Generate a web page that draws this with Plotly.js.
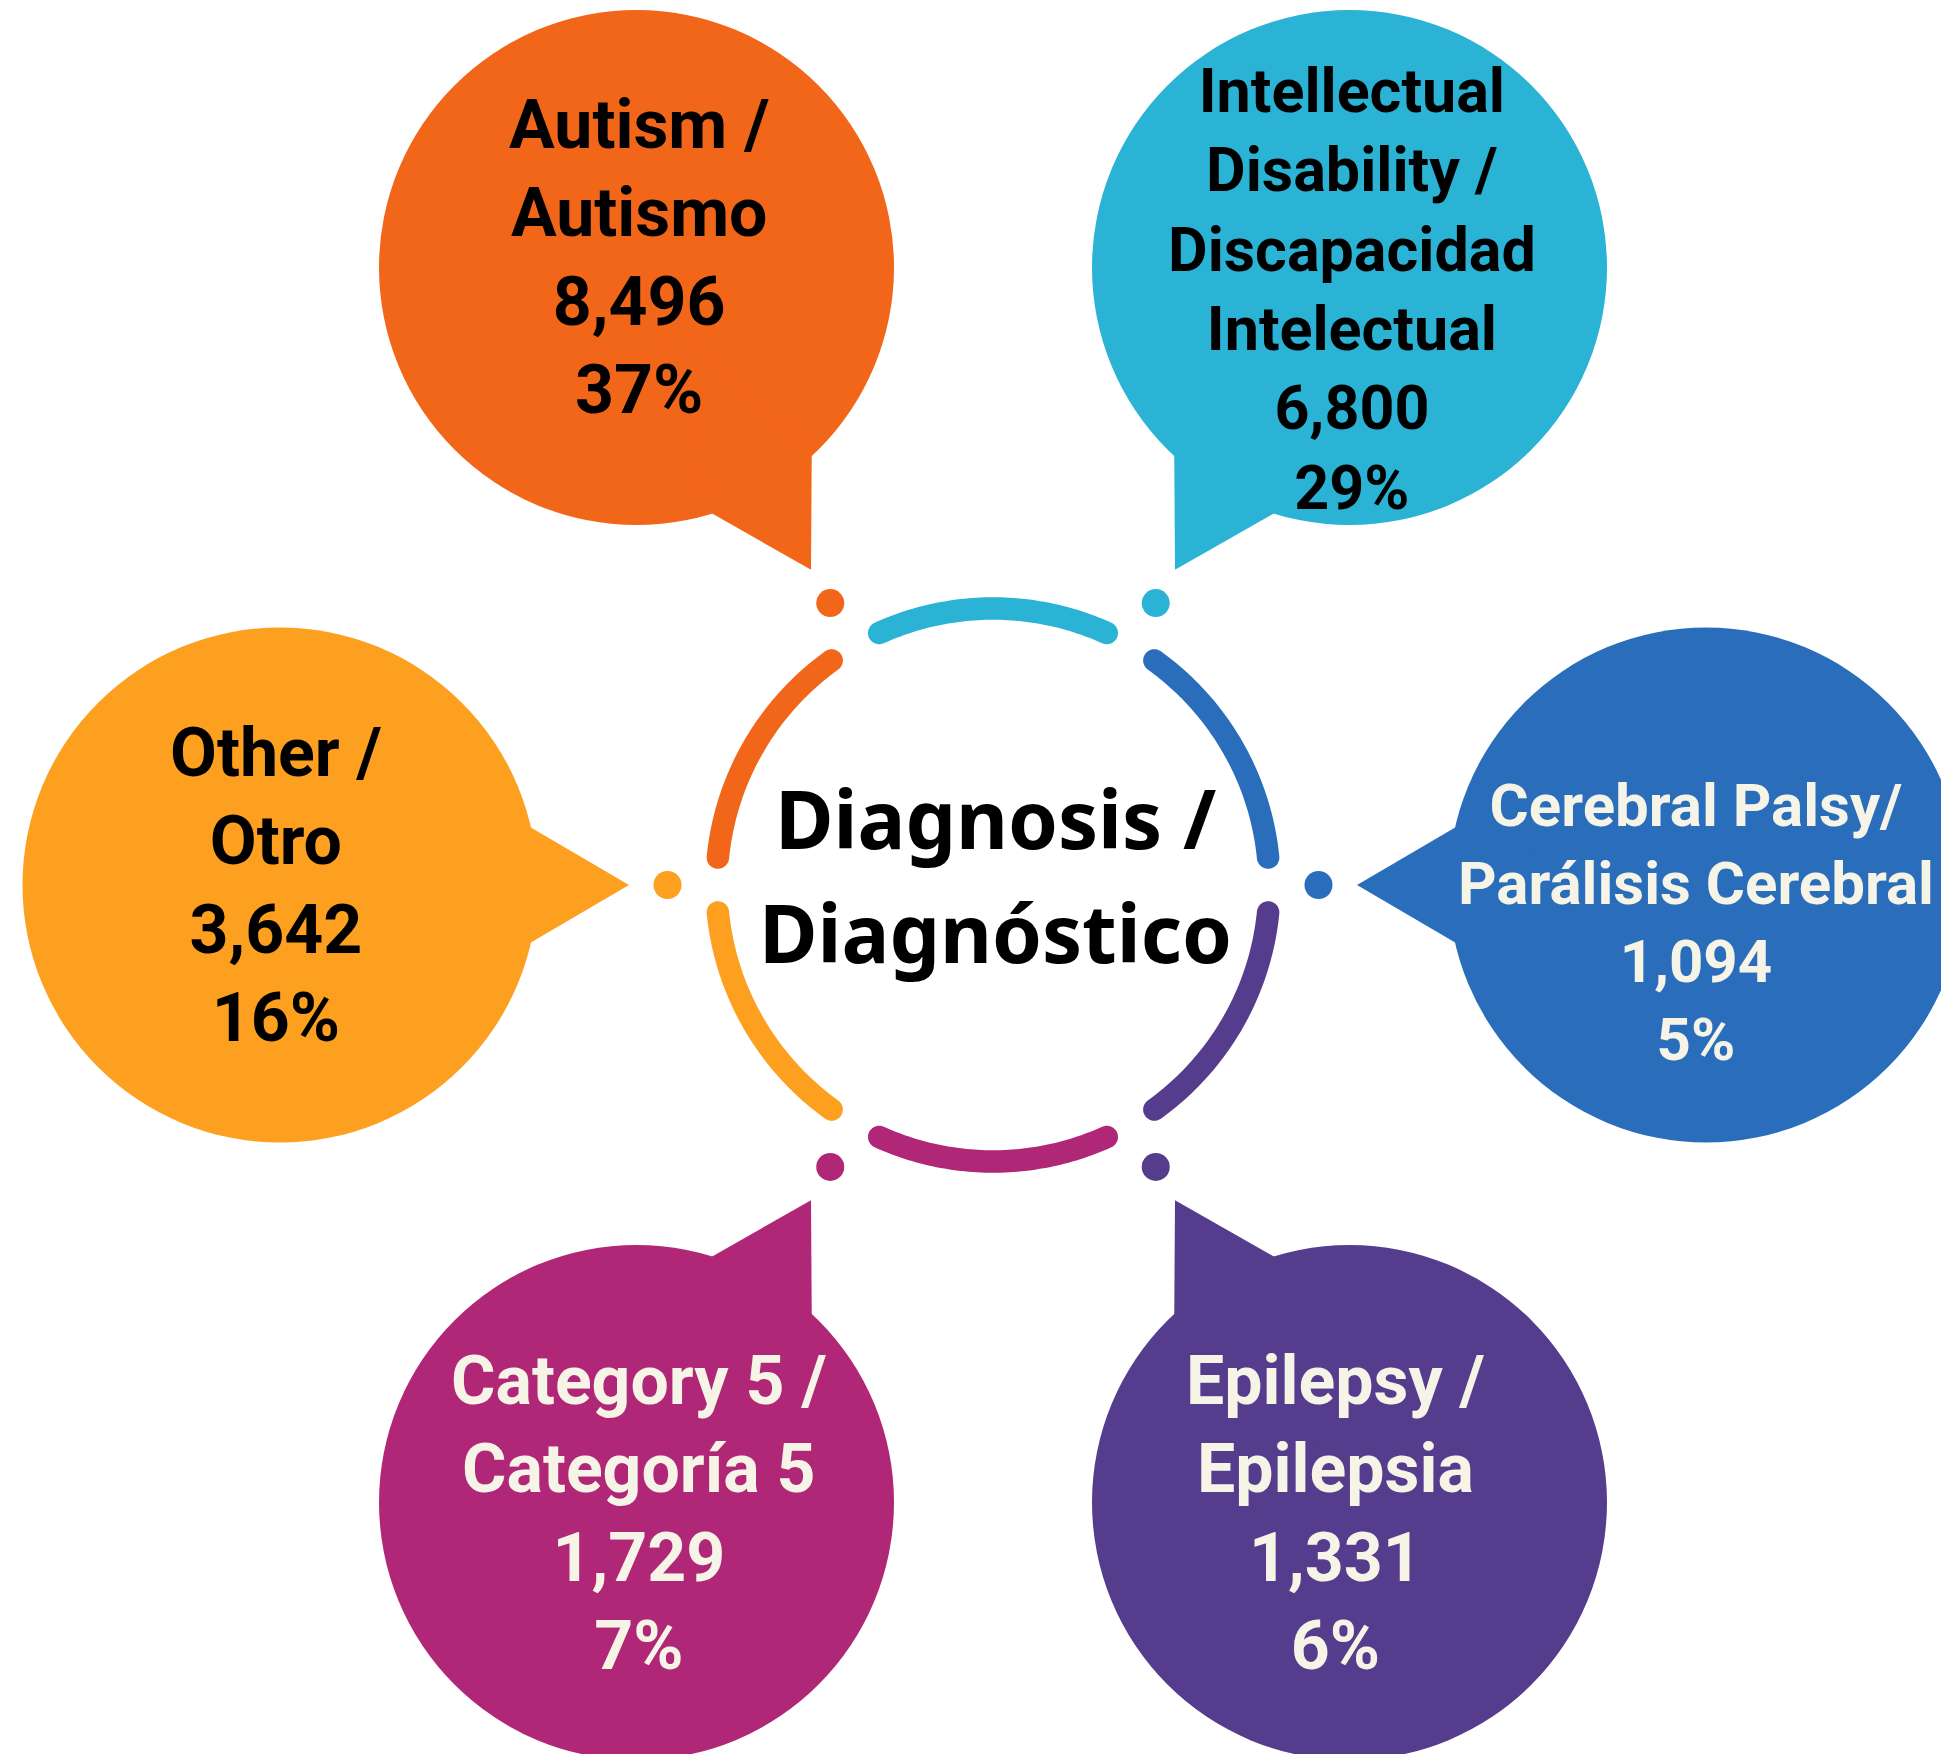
<!DOCTYPE html>
<html>
<head>
<meta charset="utf-8">
<script src="https://cdn.plot.ly/plotly-3.0.1.min.js"></script>
<style>
  html, body { margin: 0; padding: 0; background: #ffffff; }
  #chart { width: 1941px; height: 1754px; }
</style>
</head>
<body>
<div id="chart"></div>
<script>
// ---------- data ----------
const labelsEn = ["Autism /", "Intellectual<br>Disability /", "Cerebral Palsy/", "Epilepsy /", "Category 5 /", "Other /"];
const labelsEs = ["Autismo", "Discapacidad<br>Intelectual", "Parálisis Cerebral", "Epilepsia", "Categoría 5", "Otro"];
const counts   = [8496, 6800, 1094, 1331, 1729, 3642];
const percents = [37, 29, 5, 6, 7, 16];
const centerTitle = ["Diagnosis /", "Diagnóstico"];

// ---------- styling / layout ----------
const colors     = ["#F2661A", "#2BB3D5", "#2A6EBB", "#563C8C", "#B02777", "#FD9F1F"];
const textColors = ["#000000", "#000000", "#F5F4E7", "#F5F4E7", "#F5F4E7", "#000000"];
const angles     = [120, 60, 0, -60, -120, 180];       // position of each bubble around the ring
const fontSizes  = [68, 61, 60, 68, 68, 68];
const textDx     = [2, 2, -10, -14, 2, -4];
const textDy     = [-10, 22, 37, 11, 11, 0];

const W = 1941, H = 1754;
const CX = 993, CY = 885;
const RING_R = 276.5, RING_W = 22.5, ARC_HALF = 24.3;
const DOT_R = 325.5, DOT_SIZE = 28;
const BUB_D = 713, BUB_R = 257.5;
const TIP_R = 364, BASE_R = 463, BASE_LAT = 58;

function pol(r, deg) {
  const a = deg * Math.PI / 180;
  return [CX + r * Math.cos(a), CY - r * Math.sin(a)];
}
function pathFrom(pts) {
  return "M " + pts.map(p => p[0].toFixed(2) + "," + p[1].toFixed(2)).join(" L ") + " Z";
}

const shapes = [];
const annotations = [];

// arcs of the central ring
angles.forEach((ang, i) => {
  const mid = ang + 30;
  const a0 = mid - ARC_HALF, a1 = mid + ARC_HALF;
  const hw = RING_W / 2;
  const pts = [];
  const N = 60;
  for (let k = 0; k <= N; k++) pts.push(pol(RING_R + hw, a0 + (a1 - a0) * k / N));
  // cap at a1
  {
    const c = pol(RING_R, a1), t = a1 * Math.PI / 180;
    const u = [Math.cos(t), Math.sin(t)], v = [-Math.sin(t), Math.cos(t)];
    for (let k = 1; k < 20; k++) {
      const f = Math.PI * k / 20;
      const mx = hw * (Math.cos(f) * u[0] + Math.sin(f) * v[0]);
      const my = hw * (Math.cos(f) * u[1] + Math.sin(f) * v[1]);
      pts.push([c[0] + mx, c[1] - my]);
    }
  }
  for (let k = N; k >= 0; k--) pts.push(pol(RING_R - hw, a0 + (a1 - a0) * k / N));
  // cap at a0
  {
    const c = pol(RING_R, a0), t = a0 * Math.PI / 180;
    const u = [Math.cos(t), Math.sin(t)], v = [-Math.sin(t), Math.cos(t)];
    for (let k = 1; k < 20; k++) {
      const f = Math.PI * k / 20;
      const mx = hw * (-Math.cos(f) * u[0] - Math.sin(f) * v[0]);
      const my = hw * (-Math.cos(f) * u[1] - Math.sin(f) * v[1]);
      pts.push([c[0] + mx, c[1] - my]);
    }
  }
  shapes.push({type: "path", xref: "x", yref: "y", path: pathFrom(pts),
               fillcolor: colors[i], line: {width: 0}, layer: "above"});
});

// speech bubbles
angles.forEach((ang, i) => {
  const c = pol(BUB_D, ang);
  shapes.push({type: "circle", xref: "x", yref: "y",
               x0: c[0] - BUB_R, x1: c[0] + BUB_R, y0: c[1] - BUB_R, y1: c[1] + BUB_R,
               fillcolor: colors[i], line: {width: 0}, layer: "below"});
  // tail
  const t = ang * Math.PI / 180;
  const u = [Math.cos(t), -Math.sin(t)];      // screen radial
  const n = [Math.sin(t), Math.cos(t)];       // screen lateral
  const P = (r, l) => [CX + r * u[0] + l * n[0], CY + r * u[1] + l * n[1]];
  const tail = [P(TIP_R, 0), P(BASE_R, BASE_LAT), P(BUB_D - 60, 0), P(BASE_R, -BASE_LAT)];
  shapes.push({type: "path", xref: "x", yref: "y", path: pathFrom(tail),
               fillcolor: colors[i], line: {width: 0}, layer: "below"});

  annotations.push({
    xref: "x", yref: "y", x: c[0] + textDx[i], y: c[1] + textDy[i],
    text: labelsEn[i] + "<br>" + labelsEs[i] + "<br>" + counts[i].toLocaleString("en-US") + "<br>" + percents[i] + "%",
    showarrow: false, xanchor: "center", yanchor: "middle", align: "center",
    font: {family: "Roboto, 'Noto Sans', sans-serif", size: fontSizes[i], color: textColors[i], weight: 700}
  });
});

// centre title
annotations.push({xref: "x", yref: "y", x: 995, y: 817, text: centerTitle[0], showarrow: false,
  xanchor: "center", yanchor: "middle", font: {family: "'Noto Sans', 'Open Sans', sans-serif", size: 80, color: "#000000", weight: 700}});
annotations.push({xref: "x", yref: "y", x: 995, y: 931, text: centerTitle[1], showarrow: false,
  xanchor: "center", yanchor: "middle", font: {family: "'Noto Sans', 'Open Sans', sans-serif", size: 80, color: "#000000", weight: 700}});

// dots between arcs
const dotX = angles.map(a => pol(DOT_R, a)[0]);
const dotY = angles.map(a => pol(DOT_R, a)[1]);
const dots = {
  type: "scatter", mode: "markers", x: dotX, y: dotY,
  marker: {size: DOT_SIZE, color: colors, line: {width: 0}},
  hoverinfo: "skip", showlegend: false, cliponaxis: false
};

const layout = {
  width: W, height: H,
  margin: {l: 0, r: 0, t: 0, b: 0, pad: 0},
  paper_bgcolor: "#ffffff", plot_bgcolor: "#ffffff",
  xaxis: {range: [0, W], visible: false, fixedrange: true},
  yaxis: {range: [H, 0], visible: false, fixedrange: true},
  showlegend: false,
  shapes: shapes,
  annotations: annotations
};

Plotly.newPlot("chart", [dots], layout, {staticPlot: true, displayModeBar: false});
</script>
</body>
</html>
